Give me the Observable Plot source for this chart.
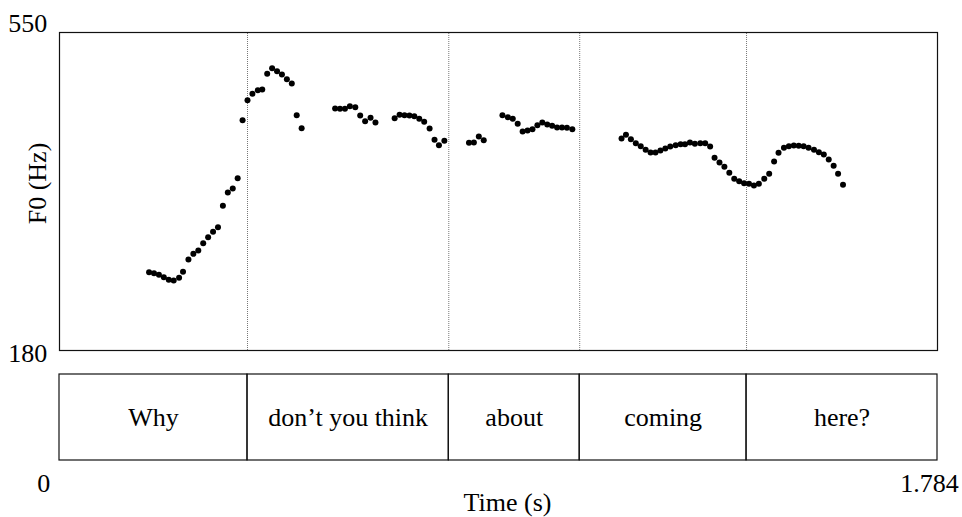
<!DOCTYPE html>
<html>
<head>
<meta charset="utf-8">
<script src="https://cdn.jsdelivr.net/npm/d3@7"></script>
<script src="https://cdn.jsdelivr.net/npm/@observablehq/plot@0.6"></script>
<style>
  html, body { margin: 0; padding: 0; background: #fff; }
</style>
</head>
<body>
<div id="chart"></div>
<script>
// ---- Data ----
const timeS = [
  0.182,0.192,0.202,0.212,0.222,0.232,0.243,0.251,0.262,0.272,0.282,0.292,0.302,0.312,0.322,0.332,
  0.342,0.352,0.362,0.372,0.382,0.392,0.403,0.412,0.422,0.432,0.442,0.452,0.462,0.472,0.482,0.492,
  0.560,0.570,0.580,0.590,0.601,0.611,0.621,0.632,0.642,0.681,0.691,0.701,0.711,0.721,0.731,0.741,
  0.752,0.762,0.771,0.782,
  0.832,0.842,0.852,0.862,0.900,0.911,0.921,0.931,0.941,0.951,0.961,0.971,0.981,0.991,1.001,1.011,
  1.021,1.031,1.042,
  1.142,1.151,1.161,1.171,1.181,1.191,1.201,1.211,1.221,1.231,1.241,1.252,1.262,1.271,1.281,1.291,
  1.302,1.312,1.322,1.331,1.341,1.351,1.361,1.371,1.381,1.391,
  1.401,1.411,1.421,1.432,1.442,1.452,1.461,1.472,1.482,1.492,1.502,1.512,1.522,1.533,1.543,1.553,
  1.563,1.573,1.582,1.592
];
const f0Hz = [
  271.1,269.9,268.1,265.3,262.3,261.4,264.6,271.6,285.9,292.5,296.4,304.8,311.8,318.1,323.5,348.4,
  363.8,368.5,380.5,448.0,471.2,478.7,482.9,483.7,501.9,508.5,505.0,501.1,495.7,490.7,453.8,438.7,
  461.6,461.2,461.2,464.2,463.1,453.4,446.8,450.8,445.3,450.3,454.2,453.8,453.4,452.6,449.6,446.1,
  438.3,425.2,418.9,424.0,
  421.7,422.0,429.0,424.7,453.8,451.5,449.6,443.8,434.8,436.0,437.5,442.1,445.3,443.0,441.4,439.5,
  439.5,439.1,437.5,
  426.7,431.0,425.9,421.2,417.7,413.5,410.4,410.4,412.7,415.0,417.4,418.9,420.0,420.0,422.0,420.5,
  421.2,421.2,417.4,404.2,398.7,393.7,386.8,379.8,377.0,374.7,
  374.0,372.0,374.0,379.8,385.6,399.9,410.0,415.8,417.7,418.5,418.2,417.7,415.8,413.5,410.7,408.0,
  402.2,394.9,385.6,372.8
];
const tierBounds = [0, 0.382, 0.791, 1.057, 1.396, 1.784];
const tierWords = ["Why", "don\u2019t you think", "about", "coming", "here?"];
const yTickTop = 550, yTickBottom = 180;
const xTickStart = 0, xTickEnd = 1.784;
const xTickLabels = ["0", "1.784"];
const xLabel = "Time (s)";
const yLabel = "F0 (Hz)";

// ---- Tables built from the arrays ----
const pitch = timeS.map((t, i) => ({t, f0: f0Hz[i]}));
const intervals = tierWords.map((w, i) => ({word: w, start: tierBounds[i], end: tierBounds[i + 1]}));
const innerBounds = tierBounds.slice(1, -1);

// ---- Layout ----
const W = 962, H = 517;
const pLeft = 59, pRight = 937, pTop = 32, pBottom = 350;
const yDomain = [yTickBottom, yTickTop], xDomain = [xTickStart, xTickEnd];
const yS = d3.scaleLinear(yDomain, [pBottom, pTop]);
const xS = d3.scaleLinear(xDomain, [pLeft, pRight]);
const tierTop = yS.invert(374), tierBot = yS.invert(460), tierMid = yS.invert(417);
const xTickY = yS.invert(483.5);
const font = "'Liberation Serif', 'Times New Roman', serif";
const fs = 26;

const chart = Plot.plot({
  width: W,
  height: H,
  marginLeft: pLeft,
  marginRight: W - pRight,
  marginTop: pTop,
  marginBottom: H - pBottom,
  x: {domain: xDomain, range: [pLeft, pRight], axis: null},
  y: {domain: yDomain, range: [pBottom, pTop], axis: null},
  style: {fontFamily: font, fontSize: fs + "px", background: "#fff", color: "#000"},
  marks: [
    // dotted interval boundaries in the pitch panel
    Plot.ruleX(innerBounds, {y1: yDomain[0], y2: yDomain[1], stroke: "#777", strokeWidth: 1, strokeDasharray: "1,1"}),
    Plot.frame({stroke: "#111", strokeWidth: 1.2}),
    Plot.dot(pitch, {x: "t", y: "f0", r: 3, fill: "#000", stroke: "none"}),
    // text tier
    Plot.rect(intervals, {x1: "start", x2: "end", y1: tierBot, y2: tierTop, fill: "none", stroke: "#111", strokeWidth: 1.2}),
    Plot.text(intervals, {x: d => (d.start + d.end) / 2, y: tierMid, text: "word", fontSize: fs, fill: "#000"}),
    // y end labels
    Plot.text([yTickTop], {x: xDomain[0], y: d => d, text: d => String(d), textAnchor: "end", dx: -12.3, dy: -8.5, fontSize: fs, fill: "#000"}),
    Plot.text([yTickBottom], {x: xDomain[0], y: d => d, text: d => String(d), textAnchor: "end", dx: -12.3, dy: 3.5, fontSize: fs, fill: "#000"}),
    // x end labels
    Plot.text([xTickStart], {x: d => d, y: xTickY, text: () => xTickLabels[0], textAnchor: "middle", dx: -15.7, fontSize: fs, fill: "#000"}),
    Plot.text([xTickEnd], {x: d => d, y: xTickY, text: () => xTickLabels[1], textAnchor: "end", dx: 21.3, fontSize: fs, fill: "#000"}),
    // axis titles
    Plot.text([xLabel], {x: (xDomain[0] + xDomain[1]) / 2, y: yS.invert(502), text: d => d, dx: 9, fontSize: fs, fill: "#000"}),
    Plot.text([yLabel], {x: xS.invert(37.5), y: yS.invert(183), text: d => d, rotate: -90, fontSize: fs, fill: "#000"})
  ]
});

document.getElementById("chart").appendChild(chart);
</script>
</body>
</html>
